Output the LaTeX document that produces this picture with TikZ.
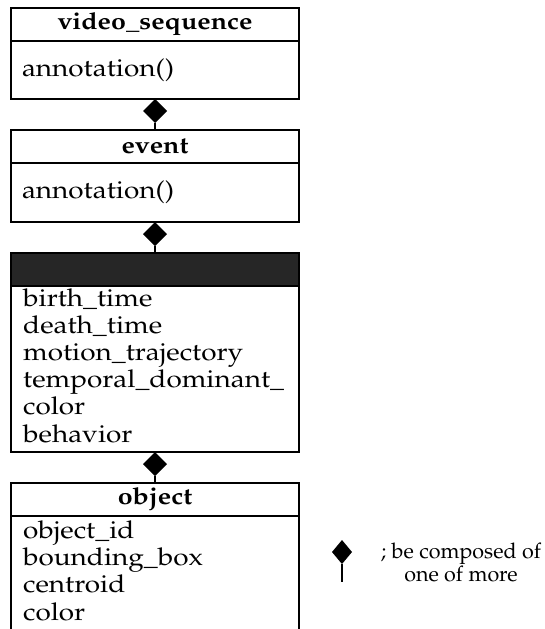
\documentclass[tikz,border=0pt]{standalone}
\usepackage[T1]{fontenc}
\usepackage{mathpazo}
\usetikzlibrary{positioning,shapes.geometric}
\newcommand{\widen}[1]{\scalebox{1.14}[1]{#1}}

\begin{document}
\begin{tikzpicture}[x=1pt,y=-1pt,
  hd/.style={draw,line width=2.2pt,minimum width=288pt,minimum height=33pt,inner sep=0pt,outer sep=0pt,font=\fontsize{23.5}{25}\selectfont\bfseries},
  bd/.style={draw,line width=2.2pt,minimum width=288pt,text width=266pt,align=left,inner xsep=11pt,inner ysep=0pt,outer sep=0pt,font=\fontsize{24.5}{25}\selectfont},
  attr/.style={anchor=base west,inner sep=0pt,font=\fontsize{24.5}{25}\selectfont},
  comp/.style={diamond,fill=black,minimum width=24pt,minimum height=24pt,inner sep=0pt,outer sep=0pt},
  stem/.style={line width=2.4pt}]

\useasboundingbox (0,0) rectangle (544,629);

\node[hd] (seqHd) at (155,24.5) {\widen{video\_sequence}};
\node[bd,minimum height=58pt,below=0pt of seqHd] (seqBd) {\widen{annotation()}};
\node[comp,below=0pt of seqBd] (c1) {};

\node[hd] (evHd) at (155,146.5) {\widen{event}};
\node[bd,minimum height=59pt,below=0pt of evHd] (evBd) {\widen{annotation()}};
\node[comp,below=0pt of evBd] (c2) {};

\node[hd,fill=black!85] (voHd) at (155,269.5) {};
\node[bd,minimum height=166pt,below=0pt of voHd] (voBd) {};
\node[comp,below=0pt of voBd] (c3) {};
\foreach \a [count=\i] in {birth\_time,death\_time,motion\_trajectory,temporal\_dominant\_,color,behavior}
  \node[attr] (vo\i) at (23,{278.8+27.2*\i}) {\widen{\a}};

\node[hd] (obHd) at (155,499.5) {\widen{object}};
\draw[line width=2.2pt] (obHd.south west) -- ++(0,113);
\draw[line width=2.2pt] (obHd.south east) -- ++(0,113);
\foreach \a [count=\i] in {object\_id,bounding\_box,centroid,color}
  \node[attr] (ob\i) at (23,{510.6+27.4*\i}) {\widen{\a}};

\draw[stem] (c1.south) -- (evHd.north);
\draw[stem] (c2.south) -- (voHd.north);
\draw[stem] (c3.south) -- (obHd.north);

\node[comp,minimum width=20pt,minimum height=24pt] (key) at (342,552) {};
\coordinate (keyEnd) at (342,582);
\draw[stem,line width=2.8pt] (key.south) -- (keyEnd);
\node[align=center,inner sep=0pt,font=\fontsize{21.5}{23}\selectfont] (keyTxt) at (461,562) {; be composed of\\one of more};

\end{tikzpicture}
\end{document}
